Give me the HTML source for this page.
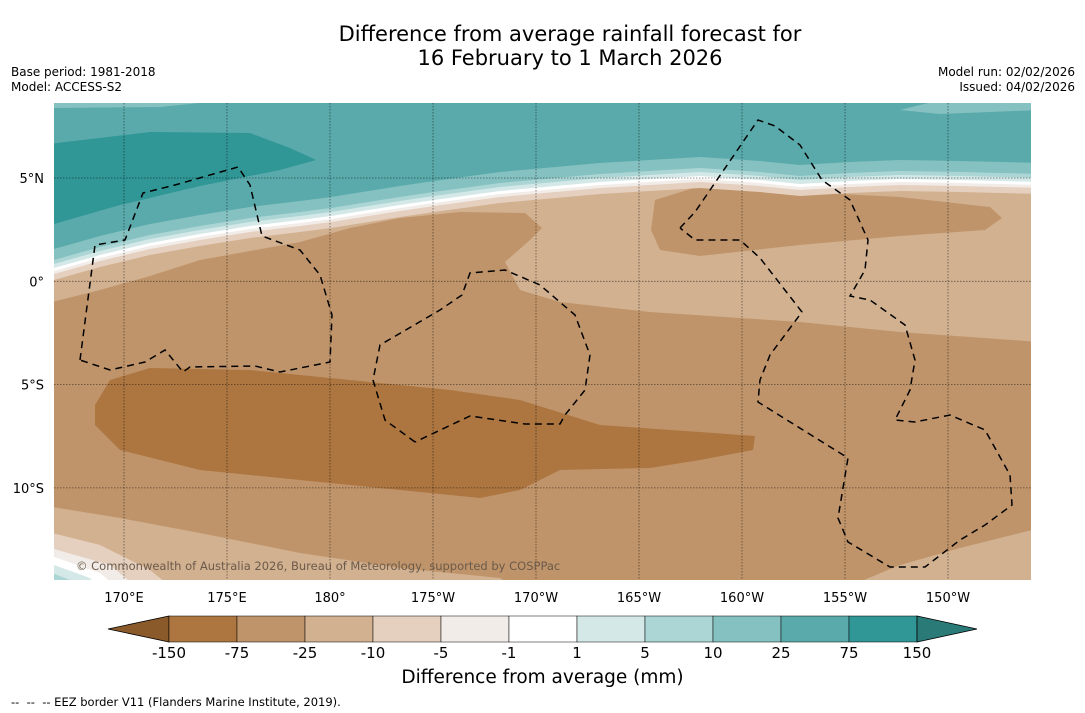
<!DOCTYPE html>
<html><head><meta charset="utf-8"><style>
body{margin:0;background:#fff;font-family:"DejaVu Sans","Liberation Sans",sans-serif;}
#wrap{position:relative;width:1085px;height:713px;overflow:hidden;background:#fff}
.t{position:absolute;color:#000;white-space:nowrap}
svg text{font-family:"DejaVu Sans","Liberation Sans",sans-serif}
</style></head><body>
<div id="wrap">
<div class="t" style="left:0;width:1140px;top:22px;text-align:center;font-size:21px;line-height:24px">Difference from average rainfall forecast for<br>16 February to 1 March 2026</div>
<div class="t" style="left:11px;top:65px;font-size:12px;line-height:15px">Base period: 1981-2018<br>Model: ACCESS-S2</div>
<div class="t" style="right:10px;top:65px;font-size:12px;line-height:15px;text-align:right">Model run: 02/02/2026<br>Issued: 04/02/2026</div>
<svg id="map" width="1085" height="713" style="position:absolute;left:0;top:0"></svg>
<div class="t" style="left:0;width:1085px;top:667px;text-align:center;font-size:18.5px">Difference from average (mm)</div>
<div class="t" style="left:11px;top:695px;font-size:11.5px">--&nbsp; --&nbsp; -- EEZ border V11 (Flanders Marine Institute, 2019).</div>
</div>
<script>
const NS="http://www.w3.org/2000/svg";
const svg=document.getElementById('map');
const levels=["-150","-75","-25","-10","-5","-1","1","5","10","25","75","150"];
const colors=["#ad7640","#c0946a","#d2b190","#e5d0bf","#f2ece8","#ffffff","#d4e8e7","#acd6d5","#85c1c0","#5aaaab","#309696"];
const lonTicks=["170°E","175°E","180°","175°W","170°W","165°W","160°W","155°W","150°W"];
const latTicks=["5°N","0°","5°S","10°S"];
const X0=54,X1=1031,Y0=103,Y1=580;
function el(tag,attrs,parent){const e=document.createElementNS(NS,tag);for(const k in attrs)e.setAttribute(k,attrs[k]);(parent||svg).appendChild(e);return e;}
const defs=el('defs',{});const cp=el('clipPath',{id:'c'},defs);el('rect',{x:X0,y:Y0,width:X1-X0,height:Y1-Y0},cp);
const g=el('g',{'clip-path':'url(#c)'});


function poly(pts,fill,name){const p=el('polygon',{points:pts.map(a=>a.join(',')).join(' '),fill:fill},g);return p;}
el('rect',{x:X0,y:Y0,width:X1-X0,height:Y1-Y0,fill:colors[1]},g);
poly([[40,90],[1040,90],[1040,342],[900,332],[800,322],[650,312],[560,302],[520,290],[505,262],[530,240],[542,228],[525,213],[460,212],[400,218],[350,228],[300,242],[200,260],[150,276],[100,290],[40,305]],colors[2],'light-tan-zone');
poly([[655,200],[700,186],[800,192],[900,197],[990,207],[1002,218],[985,230],[900,236],[800,245],[700,256],[660,250],[651,230]],colors[1],'brown-blob-east');
const front=[[40,271],[54,268],[100,255],[150,243],[200,234],[250,226],[300,220],[331,216],[400,205],[434,200],[500,191],[600,182],[700,176],[760,180],[800,184],[850,181],[900,179],[960,180],[1040,182]];
const bands=[[12,colors[3]],[6,colors[4]],[3,colors[5]],[0,colors[6]],[-4,colors[7]],[-8,colors[8]],[-19,colors[9]]];
bands.forEach(([o,c],i)=>{poly([[40,90],[1040,90]].concat(front.slice().reverse().map(p=>[p[0],p[1]+o])),c,'front-band-'+i);});
poly([[40,90],[1040,90],[1040,100],[940,100],[900,110],[940,114],[1040,110],[1040,90]],colors[8],'top-band');
poly([[54,103],[200,103],[160,107],[54,108]],colors[8],'top-left-band');
poly([[40,145],[150,132],[250,133],[290,148],[316,160],[280,170],[200,186],[120,205],[40,228]],colors[10],'teal-tongue');
poly([[95,405],[110,380],[150,368],[250,370],[350,380],[450,390],[520,400],[600,425],[700,432],[755,436],[753,450],[700,460],[650,468],[560,470],[520,490],[480,498],[400,490],[300,480],[200,470],[120,450],[95,425]],colors[0],'dark-brown-blob');
poly([[40,505],[120,518],[200,533],[300,553],[400,568],[500,578],[520,590],[40,590]],colors[2],'sw-tan');
poly([[840,590],[900,565],[960,548],[1040,528],[1040,590]],colors[2],'se-tan');
poly([[40,530],[100,545],[150,570],[175,590],[40,590]],colors[3],'sw-band1');
poly([[40,545],[110,565],[140,590],[40,590]],colors[4],'sw-band2');
poly([[40,552],[100,573],[120,590],[40,590]],colors[5],'sw-band3');
poly([[40,560],[90,578],[100,590],[40,590]],colors[6],'sw-band4');
poly([[40,568],[70,580],[40,590]],colors[7],'sw-band5');
for(let i=0;i<lonTicks.length;i++){const x=124+i*103.0;el('line',{x1:x,y1:Y0,x2:x,y2:Y1,stroke:'#000','stroke-opacity':0.55,'stroke-width':0.8,'stroke-dasharray':'1.5,1.5'},g);
 const t=el('text',{x:x,y:602,'font-size':13,'text-anchor':'middle'});t.textContent=lonTicks[i];}
for(let i=0;i<latTicks.length;i++){const y=178+i*103.3;el('line',{x1:X0,y1:y,x2:X1,y2:y,stroke:'#000','stroke-opacity':0.55,'stroke-width':0.8,'stroke-dasharray':'1.5,1.5'},g);
 const t=el('text',{x:44,y:y+5,'font-size':13,'text-anchor':'end'});t.textContent=latTicks[i];}
const eez=[
[[80,360],[95,245],[125,240],[143,193],[175,185],[238,167],[250,185],[262,236],[300,250],[320,275],[332,315],[330,362],[280,372],[255,366],[190,367],[183,372],[165,350],[145,362],[110,370],[80,360]],
[[415,442],[385,420],[373,380],[380,345],[440,310],[462,295],[470,273],[505,270],[540,285],[575,315],[590,355],[585,390],[565,415],[560,424],[525,424],[470,416],[415,442]],
[[680,228],[695,212],[758,120],[775,126],[800,145],[822,180],[850,200],[868,240],[865,270],[850,296],[870,300],[905,325],[915,360],[910,390],[895,420],[915,422],[950,415],[985,430],[1010,475],[1012,505],[985,525],[960,540],[925,567],[890,567],[848,542],[838,518],[848,458],[758,402],[760,380],[770,355],[802,312],[760,258],[740,240],[695,240],[680,228]]];
eez.forEach((pts,i)=>{const p=el('polyline',{points:pts.map(a=>a.join(',')).join(' '),fill:'none',stroke:'#000','stroke-width':1.5,'stroke-dasharray':'7,5'},g);});
const cr=el('text',{x:76,y:570,'font-size':11.5,fill:'#6b5a4a'},g);cr.textContent='© Commonwealth of Australia 2026, Bureau of Meteorology, supported by COSPPac';
const cb=el('g',{});
const cx0=169,cw=68,cy=616,ch=26;
el('polygon',{points:`${cx0},${cy} ${cx0},${cy+ch} 108,${cy+ch/2}`,fill:'#8b5a2b',stroke:'#000','stroke-width':0.8},cb);
for(let i=0;i<colors.length;i++){el('rect',{x:cx0+i*cw,y:cy,width:cw,height:ch,fill:colors[i],stroke:'#000','stroke-width':0.5},cb);}
const xe=cx0+colors.length*cw;
el('polygon',{points:`${xe},${cy} ${xe},${cy+ch} 977,${cy+ch/2}`,fill:'#2a7b78',stroke:'#000','stroke-width':0.8},cb);
levels.forEach((l,i)=>{const t=el('text',{x:cx0+i*cw,y:658,'font-size':15,'text-anchor':'middle'},cb);t.textContent=l;});
</script>
</body></html>
